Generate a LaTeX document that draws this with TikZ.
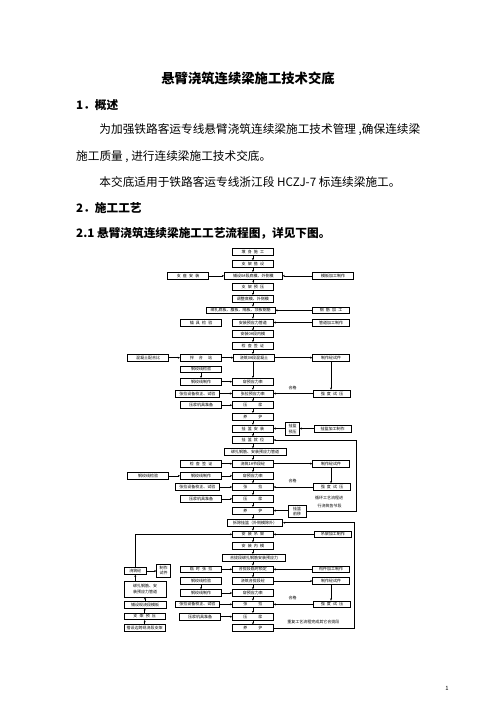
\documentclass[tikz,border=0pt]{standalone}
\usepackage{fontspec}
\setmainfont{Noto Sans CJK SC}
\usetikzlibrary{arrows.meta}
\newcommand\kg{\hspace{2.6pt}}
\newcommand\kw{\hspace{13pt}}
\newcommand\km{\hspace{6pt}}
\newcommand\myvd[2]{\draw[arr] (#1.south) -- (#1.south |- #2.north);}
\newcommand\myvu[2]{\draw[arr] (#1.north) -- (#1.north |- #2.south);}
\newcommand\myhr[2]{\draw[arr] (#1.east) -- (#1.east -| #2.west);}
\newcommand\myhl[2]{\draw[arr] (#1.west) -- (#1.west -| #2.east);}
\begin{document}
\begin{tikzpicture}[x=1.2pt,y=-1.2pt,
  box/.style={draw,line width=0.8pt,inner sep=0pt,minimum height=8.2pt,font=\fontsize{4.8pt}{5.6pt}\selectfont},
  bw/.style={minimum width=#1*1.2pt},
  bh/.style={minimum height=#1*1.2pt},
  mb/.style={box,bw=40.8},
  lb/.style={box,bw=41.4},
  tb/.style={box,bw=43.3},
  rb/.style={box,bw=36.6},
  sb/.style={box,align=center,font=\fontsize{4.8pt}{6.4pt}\selectfont},
  arr/.style={-{Stealth[length=2.6pt,width=2.4pt]},line width=0.65pt},
  lbl/.style={inner sep=0pt,font=\fontsize{4.8pt}{6pt}\selectfont},
  body/.style={inner sep=0pt,anchor=west,font=\fontsize{14pt}{16pt}\selectfont},
  head/.style={inner sep=0pt,anchor=west,font=\fontsize{14pt}{16pt}\selectfont\bfseries}]
\fill[white] (0,0) rectangle (496,702);
\useasboundingbox (0,0) rectangle (496,702);
\def\mx{252.9}
% ---- text ----
\node[inner sep=0pt,font=\fontsize{16pt}{18pt}\selectfont\bfseries] (title) at (248,78) {悬臂浇筑连续梁施工技术交底};
\node[head] (h1) at (76,105) {1．概述};
\node[body] (p1) at (99.3,130) {为加强铁路客运专线悬臂浇筑连续梁施工技术管理 ,确保连续梁};
\node[body] (p2) at (76,156.7) {施工质量 , 进行连续梁施工技术交底。};
\node[body] (p3) at (99.3,181.7) {本交底适用于铁路客运专线浙江段 HCZJ-7 标连续梁施工。};
\node[head] (h2) at (76,208.3) {2．施工工艺};
\node[head] (h3) at (76,233.3) {2.1 悬臂浇筑连续梁施工工艺流程图，详见下图。};
\node[inner sep=0pt,font=\fontsize{7pt}{8pt}\selectfont] (pg) at (447,688) {1};
% ---- main column ----
\node[mb] (a1) at (\mx,251.8) {墩\kg 身\kg 施\kg 工};
\node[mb] (a2) at (\mx,264) {支\kg 架\kg 搭\kg 设};
\node[box,bw=58] (a3) at (253.3,275.8) {铺设0\#段底模、外侧模};
\node[mb] (a4) at (\mx,286.7) {支\kg 架\kg 预\kg 压};
\node[mb] (a5) at (\mx,298.7) {调整底模、外侧模};
\node[box,bw=69] (a6) at (240.5,310.3) {绑扎底板、腹板、隔板、顶板钢筋};
\node[mb] (a7) at (\mx,322.5) {安装预应力管道};
\node[mb] (a8) at (\mx,334.2) {安装0\#段内模};
\node[mb] (a9) at (\mx,345.8) {检\kg 查\kg 签\kg 证};
\node[mb] (a10) at (254,357.7) {浇筑0\#段混凝土};
\node[mb] (a11) at (\mx,381.7) {穿预应力束};
\node[mb] (a12) at (\mx,393.5) {张拉预应力束};
\node[mb] (a13) at (\mx,405.2) {压\kw 浆};
\node[mb] (a14) at (\mx,416.7) {养\kw 护};
\node[mb] (a15) at (\mx,428.5) {挂\kg 篮\kg 安\kg 装};
\node[mb] (a16) at (\mx,440) {挂\kg 篮\kg 就\kg 位};
\node[box,bw=62] (a17) at (255,452) {绑扎钢筋、安装预应力管道};
\node[mb] (a18) at (\mx,463.7) {浇筑1\#节段砼};
\node[mb] (a19) at (\mx,475.8) {穿预应力束};
\node[mb] (a20) at (\mx,487) {张\kw 拉};
\node[mb] (a21) at (\mx,498.8) {压\kw 浆};
\node[mb] (a22) at (\mx,510.7) {养\kw 护};
\node[box,bw=55.4] (a23) at (255,522.7) {拆除挂篮（外侧模除外）};
\node[mb] (a24) at (\mx,534.3) {安\kg 装\kg 吊\kg 架};
\node[mb] (a25) at (\mx,546) {安\kg 装\kg 内\kg 模};
\node[box,bw=63.4] (a26) at (254,557.7) {合拢段绑扎钢筋安装预应力};
\node[mb] (a27) at (\mx,569.3) {合拢段临时锁定};
\node[mb] (a28) at (\mx,581) {浇筑合拢段砼};
\node[mb] (a29) at (\mx,593) {穿预应力束};
\node[mb] (a30) at (\mx,604.3) {张\kw 拉};
\node[mb] (a31) at (\mx,616.7) {压\kw 浆};
\node[mb] (a32) at (\mx,628.2) {养\kw 护};
% ---- left column ----
\node[box,bw=40.6] (l1) at (188,275.8) {支\kg 座\kg 安\kg 装};
\node[lb] (l2) at (201,322.5) {锚\kg 具\kg 检\kg 验};
\node[lb] (l3) at (201,357.7) {拌\km 合\km 站};
\node[lb] (l4) at (201,369.3) {钢绞线检验};
\node[lb] (l5) at (201,381.7) {钢绞线制作};
\node[tb] (l6) at (197.3,393.5) {张拉设备校正、试验};
\node[lb] (l7) at (201,405.2) {压浆机具准备};
\node[lb] (l8) at (201,463.7) {检\kg 查\kg 签\kg 证};
\node[lb] (l9) at (201,475.8) {钢绞线制作};
\node[tb] (l10) at (197.3,487) {张拉设备校正、试验};
\node[lb] (l11) at (201,498.8) {压浆机具准备};
\node[lb] (l12) at (201,569.3) {临\kg 时\kg 张\kg 拉};
\node[lb] (l13) at (201,581) {钢绞线检验};
\node[lb] (l14) at (201,593) {钢绞线制作};
\node[tb] (l15) at (197.3,604.3) {张拉设备校正、试验};
\node[lb] (l16) at (200,616.7) {压浆机具准备};
% ---- right column ----
\node[box,bw=40.6] (r1) at (333,275.8) {模板加工制作};
\node[rb] (r2) at (331,310.3) {钢\kg 筋\kg 加\kg 工};
\node[rb] (r3) at (331,322.5) {管道加工制作};
\node[rb] (r4) at (331,357.7) {制作砼试件};
\node[rb] (r5) at (332,393.5) {强\kg 度\kg 试\kg 压};
\node[box,bw=36.7] (r6) at (332.7,428.5) {挂篮加工制作};
\node[rb] (r7) at (331,463.7) {制作砼试件};
\node[rb] (r8) at (332,487) {强\kg 度\kg 试\kg 压};
\node[box,bw=37.7] (r9) at (332.8,534.3) {吊架加工制作};
\node[rb] (r10) at (331,569.3) {构件加工制作};
\node[rb] (r11) at (331,581) {制作砼试件};
\node[rb] (r12) at (332,604.3) {强\kg 度\kg 试\kg 压};
% ---- small boxes ----
\node[sb,bw=13.6,bh=13.4] (s1) at (292.5,429) {挂篮\\预压};
\node[sb,bw=17.7,bh=12.3] (s2) at (297.2,511.2) {挂篮\\前移};
\node[sb,bw=14,bh=13.3] (s3) at (163.7,570.7) {制作\\试件};
% ---- far left ----
\node[lb] (f1) at (148,357.7) {混凝土配合比};
\node[lb] (f2) at (148,475.8) {钢绞线检验};
\node[box,bw=22.7] (f3) at (135.3,571) {浇筑砼};
\node[box,bw=42,bh=16,align=center,font=\fontsize{4.8pt}{6.6pt}\selectfont] (f4) at (145,589) {绑扎钢筋、安\\装预应力管道};
\node[box,bw=42] (f5) at (145,604.5) {铺设现浇段模板};
\node[box,bw=40.7] (f6) at (144.7,616.3) {支\kg 架\kg 预\kg 压};
\node[box,bw=40.7] (f7) at (144.7,627.8) {搭设边跨现浇段支架};
% ---- labels ----
\node[lbl] (q1) at (292.5,387.5) {合格};
\node[lbl] (q2) at (292.5,481) {合格};
\node[lbl] (q3) at (292.5,598) {合格};
\node[lbl] (c1) at (329,498.3) {循环工艺流程进};
\node[lbl] (c2) at (329.5,505.7) {行浇筑各节段};
\node[lbl] (c3) at (313.3,622.3) {重复工艺流程完成其它合拢段};
% ---- connectors: main column ----
\myvd{a1}{a2}
\myvd{a2}{a3}
\myvd{a3}{a4}
\myvd{a4}{a5}
\draw[arr] (a5.south) -- (a5.south |- a6.north);
\draw[arr] (a7.north |- a6.south) -- (a7.north);
\myvd{a7}{a8}
\myvd{a8}{a9}
\draw[arr] (a9.south) -- (a9.south |- a10.north);
\draw[arr] (a11.north |- a10.south) -- (a11.north);
\myvd{a11}{a12}
\myvd{a12}{a13}
\myvd{a13}{a14}
\myvd{a14}{a15}
\myvd{a15}{a16}
\draw[arr] (a16.south) -- (a16.south |- a17.north);
\draw[arr] (a18.north |- a17.south) -- (a18.north);
\myvd{a18}{a19}
\myvd{a19}{a20}
\myvd{a20}{a21}
\myvd{a21}{a22}
\draw[arr] (a22.south) -- (a22.south |- a23.north);
\draw[arr] (a24.north |- a23.south) -- (a24.north);
\myvd{a24}{a25}
\draw[arr] (a25.south) -- (a25.south |- a26.north);
\draw[arr] (a27.north |- a26.south) -- (a27.north);
\myvd{a27}{a28}
\myvd{a28}{a29}
\myvd{a29}{a30}
\myvd{a30}{a31}
\myvd{a31}{a32}
% ---- side inputs ----
\myhr{l1}{a3}
\myhl{r1}{a3}
\myhl{r2}{a6}
\myhl{r3}{a7}
\myhr{f1}{l3}
\myhr{l3}{a10}
\myhr{a10}{r4}
\myvd{r4}{r5}
\draw[arr] (r5.west) -- (r5.west -| a12.east);
\myvd{l4}{l5}
\myhr{l5}{a11}
\myhr{l6}{a12}
\myhr{l7}{a13}
\myhl{r6}{s1}
\draw[arr] (s1.west |- a15) -- (a15.east);
\myhr{l8}{a18}
\myhr{a18}{r7}
\myvd{r7}{r8}
\draw[arr] (r8.west) -- (r8.west -| a20.east);
\myhr{f2}{l9}
\myhr{l9}{a19}
\myhr{l10}{a20}
\myhr{l11}{a21}
\draw[arr] (s2.west |- a22) -- (a22.east);
\coordinate (k1) at (356,511.2);
\draw[arr] (s2.east) -- (k1) -- (k1 |- a16) -- (a16.east);
\myhl{r9}{a24}
\myhr{l12}{a27}
\myhl{r10}{a27}
\myhr{a28}{r11}
\myvd{r11}{r12}
\draw[arr] (r12.west) -- (r12.west -| a30.east);
\myvd{l13}{l14}
\myhr{l14}{a29}
\myhr{l15}{a30}
\myhr{l16}{a31}
\coordinate (k2) at (354.5,628.2);
\draw[arr] (a32.east) -- (k2) -- (k2 |- a23) -- (a23.east);
% ---- far left column ----
\myvu{f7}{f6}
\myvu{f6}{f5}
\myvu{f5}{f4}
\draw[arr] (f3 |- f4.north) -- (f3.south);
\draw[arr] (f3.east) -- (f3.east -| s3.west);
\draw[arr] (f3.north) -- (f3.north |- a24) -- (a24.west);
\end{tikzpicture}
\end{document}
